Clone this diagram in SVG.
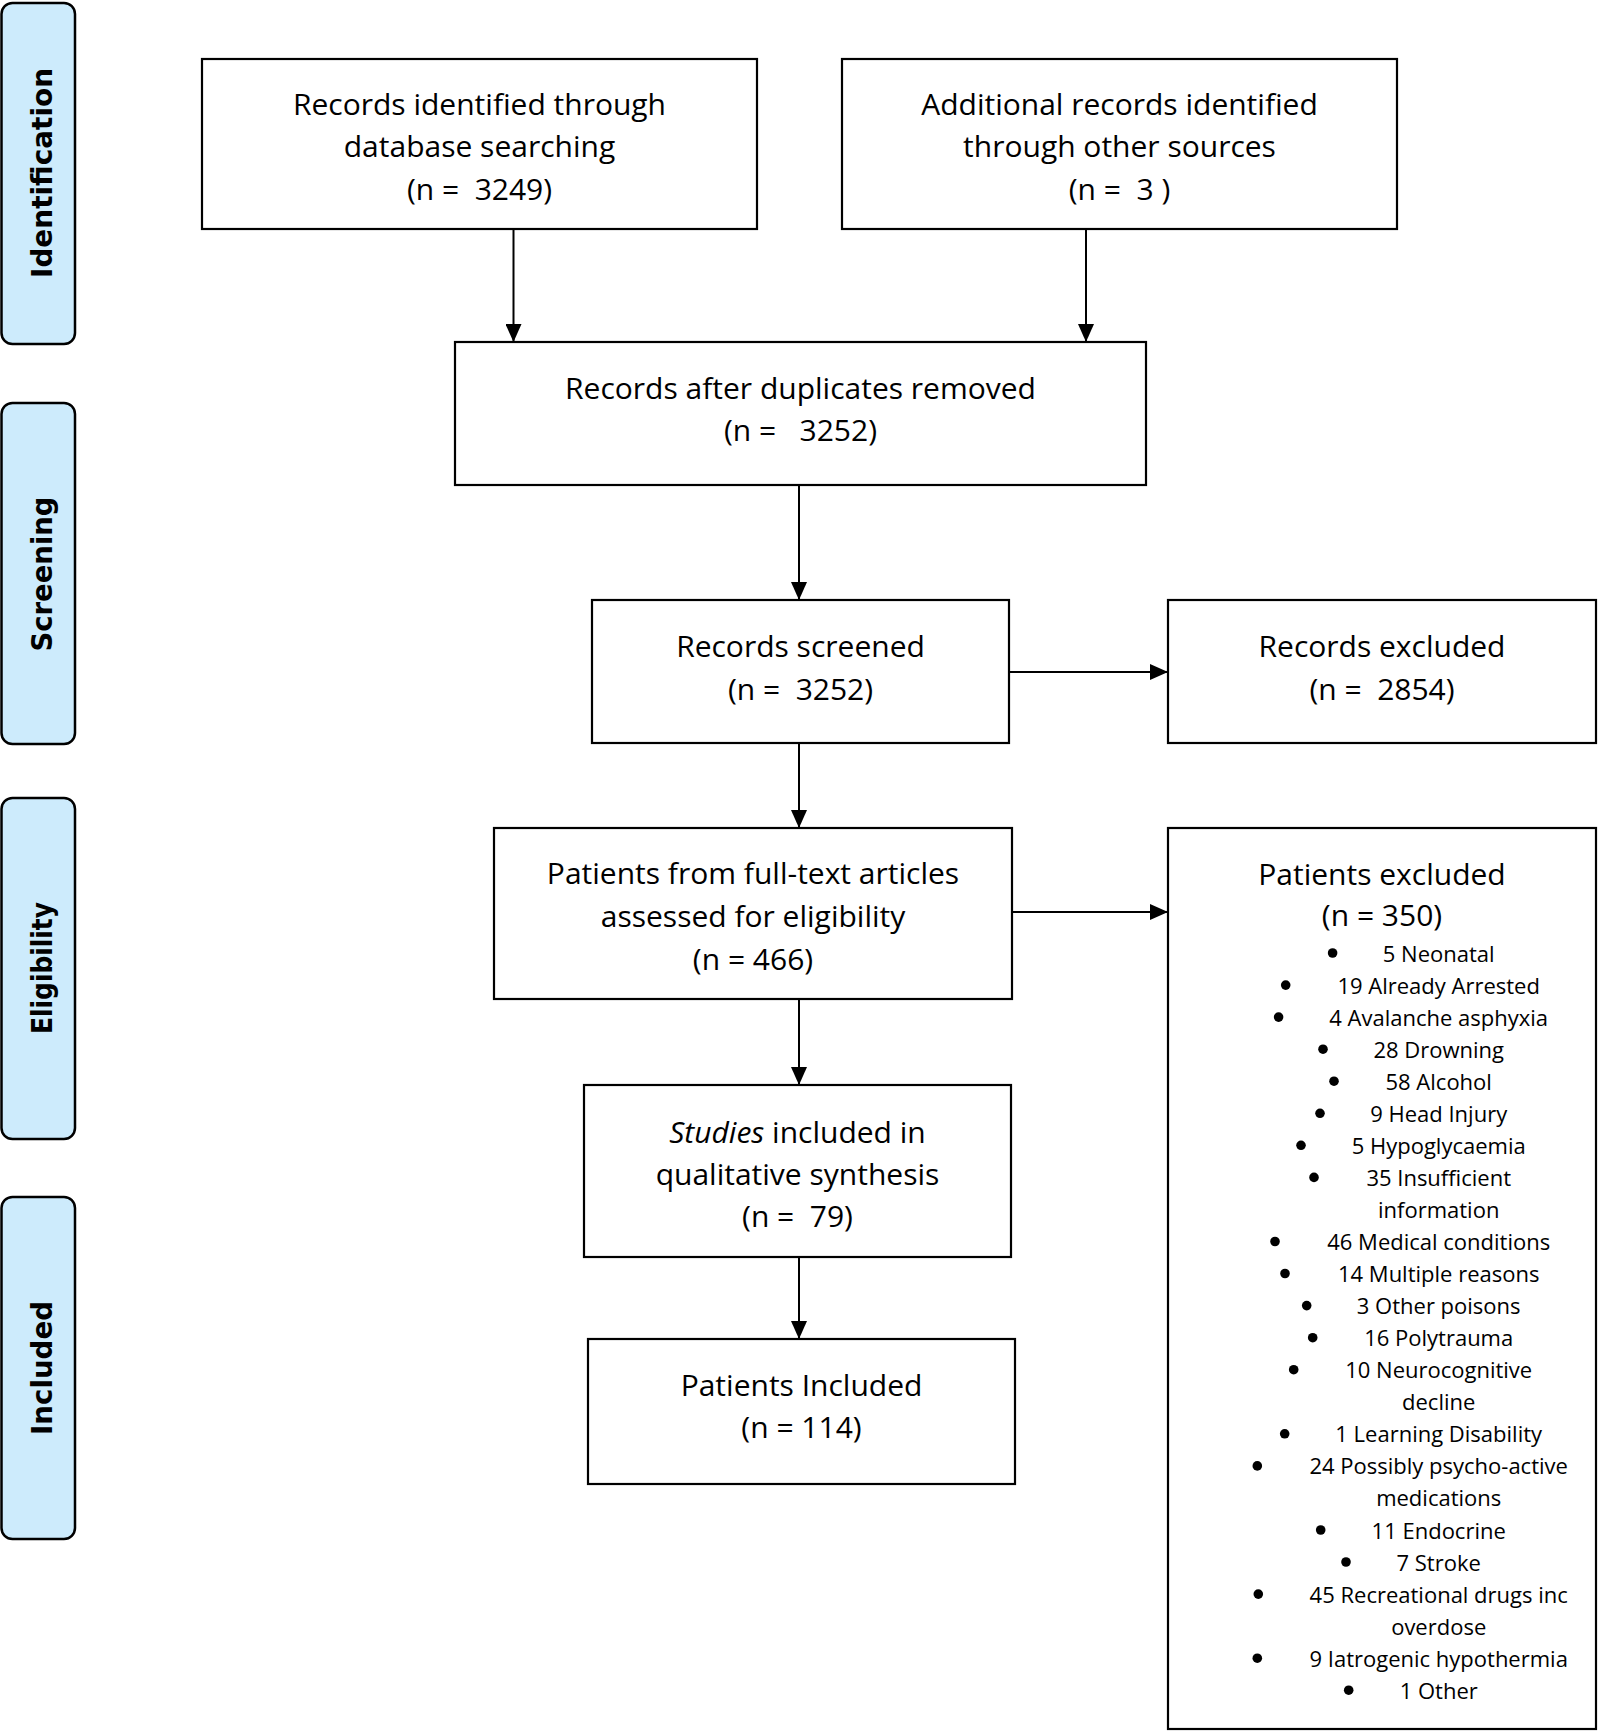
<svg xmlns="http://www.w3.org/2000/svg" width="1600" height="1732" viewBox="0 0 1600 1732">
<style>
.bg{fill:#fff}
.box{fill:#fff;stroke:#000;stroke-width:2.2}
.lab{fill:#CDEBFC;stroke:#000;stroke-width:2.5}
.t{font-family:"Open Sans","Liberation Sans",sans-serif;font-size:30px;text-anchor:middle;fill:#000;white-space:pre}
.li{font-size:22px}
.it{font-style:italic}
.side{font-family:"DejaVu Sans","Liberation Sans",sans-serif;font-weight:bold;font-size:28px;text-anchor:middle;fill:#000}
.conn line{stroke:#000;stroke-width:2;fill:none}
.bul{fill:#000}
</style>
<defs>
<marker id="arr" markerUnits="userSpaceOnUse" markerWidth="18" markerHeight="16" refX="18" refY="8" orient="auto">
<path d="M0,0 L18,8 L0,16 Z" fill="#000"/>
</marker>
</defs>
<rect class="bg" x="0" y="0" width="1600" height="1732"/>

<g id="phase-identification">
<rect class="lab" x="1.5" y="3" width="73.5" height="341" rx="11"/>
<text class="side" transform="translate(52,173) rotate(-90)" textLength="210" lengthAdjust="spacingAndGlyphs">Identification</text>
</g>
<g id="phase-screening">
<rect class="lab" x="1.5" y="403" width="73.5" height="341" rx="11"/>
<text class="side" transform="translate(52,574) rotate(-90)" textLength="155" lengthAdjust="spacingAndGlyphs">Screening</text>
</g>
<g id="phase-eligibility">
<rect class="lab" x="1.5" y="798" width="73.5" height="341" rx="11"/>
<text class="side" transform="translate(52,968) rotate(-90)" textLength="132" lengthAdjust="spacingAndGlyphs">Eligibility</text>
</g>
<g id="phase-included">
<rect class="lab" x="1.5" y="1197" width="73.5" height="342" rx="11"/>
<text class="side" transform="translate(52,1368) rotate(-90)" textLength="134" lengthAdjust="spacingAndGlyphs">Included</text>
</g>

<g id="connectors" class="conn">
<line x1="513.5" y1="229" x2="513.5" y2="342" marker-end="url(#arr)"/>
<line x1="1086" y1="229" x2="1086" y2="342" marker-end="url(#arr)"/>
<line x1="799" y1="485" x2="799" y2="600" marker-end="url(#arr)"/>
<line x1="799" y1="743" x2="799" y2="828" marker-end="url(#arr)"/>
<line x1="799" y1="999" x2="799" y2="1085" marker-end="url(#arr)"/>
<line x1="799" y1="1257" x2="799" y2="1339" marker-end="url(#arr)"/>
<line x1="1006" y1="672" x2="1168" y2="672" marker-end="url(#arr)"/>
<line x1="1012" y1="912" x2="1168" y2="912" marker-end="url(#arr)"/>
</g>

<g id="n-database">
<rect class="box" x="202" y="59" width="555" height="170"/>
<text class="t" x="479.5" y="115">Records identified through</text>
<text class="t" x="479.5" y="157">database searching</text>
<text class="t" x="479.5" y="200" xml:space="preserve">(n =  3249)</text>
</g>
<g id="n-other">
<rect class="box" x="842" y="59" width="555" height="170"/>
<text class="t" x="1119.5" y="115">Additional records identified</text>
<text class="t" x="1119.5" y="157">through other sources</text>
<text class="t" x="1119.5" y="200" xml:space="preserve">(n =  3 )</text>
</g>
<g id="n-dedup">
<rect class="box" x="455" y="342" width="691" height="143"/>
<text class="t" x="800.5" y="399">Records after duplicates removed</text>
<text class="t" x="800.5" y="441" xml:space="preserve">(n =   3252)</text>
</g>
<g id="n-screened">
<rect class="box" x="592" y="600" width="417" height="143"/>
<text class="t" x="800.5" y="657">Records screened</text>
<text class="t" x="800.5" y="700" xml:space="preserve">(n =  3252)</text>
</g>
<g id="n-rec-excluded">
<rect class="box" x="1168" y="600" width="428" height="143"/>
<text class="t" x="1382" y="657">Records excluded</text>
<text class="t" x="1382" y="700" xml:space="preserve">(n =  2854)</text>
</g>
<g id="n-fulltext">
<rect class="box" x="494" y="828" width="518" height="171"/>
<text class="t" x="753" y="884">Patients from full-text articles</text>
<text class="t" x="753" y="927">assessed for eligibility</text>
<text class="t" x="753" y="970">(n = 466)</text>
</g>
<g id="n-studies">
<rect class="box" x="584" y="1085" width="427" height="172"/>
<text class="t" x="797.5" y="1143"><tspan class="it">Studies</tspan> included in</text>
<text class="t" x="797.5" y="1185">qualitative synthesis</text>
<text class="t" x="797.5" y="1227" xml:space="preserve">(n =  79)</text>
</g>
<g id="n-included">
<rect class="box" x="588" y="1339" width="427" height="145"/>
<text class="t" x="801.5" y="1396">Patients Included</text>
<text class="t" x="801.5" y="1438">(n = 114)</text>
</g>
<g id="n-pat-excluded">
<rect class="box" x="1168" y="828" width="428" height="901"/>
<text class="t" x="1382" y="885">Patients excluded</text>
<text class="t" x="1382" y="926">(n = 350)</text>
<g class="bul">
<circle cx="1332.6" cy="953" r="4.8"/>
<circle cx="1285.7" cy="985.1" r="4.8"/>
<circle cx="1278.6" cy="1017.1" r="4.8"/>
<circle cx="1323" cy="1049.2" r="4.8"/>
<circle cx="1334" cy="1081.2" r="4.8"/>
<circle cx="1320" cy="1113.3" r="4.8"/>
<circle cx="1301" cy="1145.3" r="4.8"/>
<circle cx="1314" cy="1177.4" r="4.8"/>
<circle cx="1275" cy="1241.5" r="4.8"/>
<circle cx="1285" cy="1273.5" r="4.8"/>
<circle cx="1306.7" cy="1305.6" r="4.8"/>
<circle cx="1312.7" cy="1337.7" r="4.8"/>
<circle cx="1293.7" cy="1369.7" r="4.8"/>
<circle cx="1284.7" cy="1433.8" r="4.8"/>
<circle cx="1257.3" cy="1465.9" r="4.8"/>
<circle cx="1320.7" cy="1530" r="4.8"/>
<circle cx="1346" cy="1562" r="4.8"/>
<circle cx="1258.3" cy="1594.1" r="4.8"/>
<circle cx="1257.3" cy="1658.2" r="4.8"/>
<circle cx="1348.7" cy="1690.2" r="4.8"/>
</g>
<text class="t li" x="1438.7" y="961.5">5 Neonatal</text>
<text class="t li" x="1438.7" y="993.6">19 Already Arrested</text>
<text class="t li" x="1438.7" y="1025.6">4 Avalanche asphyxia</text>
<text class="t li" x="1438.7" y="1057.7">28 Drowning</text>
<text class="t li" x="1438.7" y="1089.7">58 Alcohol</text>
<text class="t li" x="1438.7" y="1121.8">9 Head Injury</text>
<text class="t li" x="1438.7" y="1153.8">5 Hypoglycaemia</text>
<text class="t li" x="1438.7" y="1185.9">35 Insufficient</text>
<text class="t li" x="1438.7" y="1217.9">information</text>
<text class="t li" x="1438.7" y="1250">46 Medical conditions</text>
<text class="t li" x="1438.7" y="1282">14 Multiple reasons</text>
<text class="t li" x="1438.7" y="1314.1">3 Other poisons</text>
<text class="t li" x="1438.7" y="1346.2">16 Polytrauma</text>
<text class="t li" x="1438.7" y="1378.2">10 Neurocognitive</text>
<text class="t li" x="1438.7" y="1410.3">decline</text>
<text class="t li" x="1438.7" y="1442.3">1 Learning Disability</text>
<text class="t li" x="1438.7" y="1474.4">24 Possibly psycho-active</text>
<text class="t li" x="1438.7" y="1506.4">medications</text>
<text class="t li" x="1438.7" y="1538.5">11 Endocrine</text>
<text class="t li" x="1438.7" y="1570.5">7 Stroke</text>
<text class="t li" x="1438.7" y="1602.6">45 Recreational drugs inc</text>
<text class="t li" x="1438.7" y="1634.6">overdose</text>
<text class="t li" x="1438.7" y="1666.7">9 Iatrogenic hypothermia</text>
<text class="t li" x="1438.7" y="1698.7">1 Other</text>
</g>
</svg>
